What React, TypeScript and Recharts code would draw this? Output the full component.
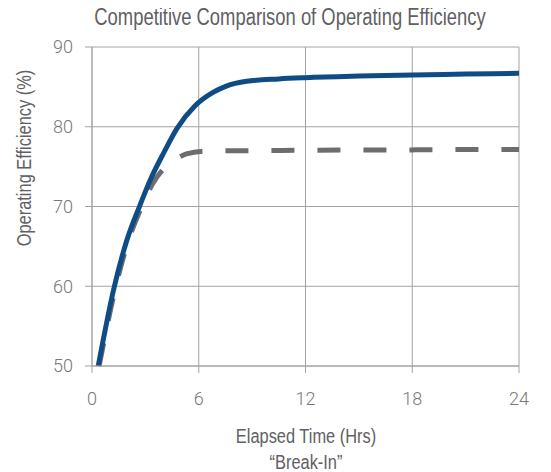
import React from "react"
import { LineChart, Line, XAxis, YAxis, CartesianGrid } from "recharts"

// hours elapsed / operating efficiency (%)
const leaderHours = [0.35, 1.25, 1.95, 2.65, 3.35, 4.0, 4.78, 5.78, 6.8, 7.55, 8.7, 10.5, 12, 15, 18, 21, 24]
const leaderEff = [50, 59.9, 65.7, 69.9, 73.7, 76.6, 79.8, 82.6, 84.3, 85.1, 85.7, 86.0, 86.15, 86.35, 86.5, 86.6, 86.7]

const competitorHours = [0.4, 1.3, 2.0, 2.7, 3.45, 4.1, 4.7, 5.3, 6.4, 9, 12, 15, 18, 21, 24]
const competitorEff = [50, 59.6, 65.4, 69.5, 73.0, 74.9, 75.9, 76.6, 76.95, 77.0, 77.05, 77.1, 77.1, 77.15, 77.15]

const xTicks = [0, 6, 12, 18, 24]
const yTicks = [50, 60, 70, 80, 90]

const leaderData = leaderHours.map((t, i) => ({ t, eff: leaderEff[i] }))
const competitorData = competitorHours.map((t, i) => ({ t, eff: competitorEff[i] }))

const textGray = "#5f6064"
const gridGray = "#a3a3a3"
const narrow = "'Liberation Sans', Arial, sans-serif"
const tickFont = { fill: "#77787b", fontSize: 18, fontFamily: "Roboto, 'Liberation Sans', sans-serif", fontWeight: 300 }

export default function App() {
  return (
    <div style={{ position: "relative", width: 535, height: 464 }}>
      <div
        style={{
          position: "absolute",
          top: -4,
          left: 2,
          width: 560,
          textAlign: "center",
          fontFamily: narrow,
          fontSize: 23,
          lineHeight: "26px",
          color: textGray,
          whiteSpace: "nowrap",
          transform: "scaleX(0.8)",
        }}
      >
        Competitive Comparison of Operating Efficiency
      </div>
      <LineChart width={535} height={456} data={leaderData} margin={{ top: 39, right: 24, bottom: 0, left: 0 }}>
        <CartesianGrid stroke={gridGray} strokeWidth={1} />
        <XAxis
          dataKey="t"
          type="number"
          domain={[0, 24]}
          ticks={xTicks}
          height={98}
          tickSize={7}
          tickMargin={19}
          stroke={gridGray}
          tickLine={{ stroke: gridGray }}
          tick={tickFont}
          allowDuplicatedCategory={false}
        />
        <YAxis
          type="number"
          domain={[50, 90]}
          ticks={yTicks}
          width={84}
          tickSize={7}
          tickMargin={12}
          stroke={gridGray}
          tickLine={{ stroke: gridGray }}
          tick={tickFont}
        />
        <Line
          data={competitorData}
          dataKey="eff"
          type="monotone"
          stroke="#6d6d6f"
          strokeWidth={5}
          strokeDasharray="23 23"
          dot={false}
          isAnimationActive={false}
        />
        <Line
          data={leaderData}
          dataKey="eff"
          type="monotone"
          stroke="#0f4c86"
          strokeWidth={5}
          dot={false}
          isAnimationActive={false}
        />
      </LineChart>
      <div
        style={{
          position: "absolute",
          top: 415,
          left: 168,
          width: 260,
          textAlign: "center",
          fontFamily: narrow,
          fontSize: 20,
          lineHeight: "26px",
          color: textGray,
          whiteSpace: "nowrap",
          transform: "scaleX(0.82)",
        }}
      >
        Elapsed Time (Hrs)
        <br />
        “Break-In”
      </div>
      <div
        style={{
          position: "absolute",
          top: 139,
          left: -114,
          width: 260,
          textAlign: "center",
          fontFamily: narrow,
          fontSize: 20,
          lineHeight: "22px",
          color: textGray,
          whiteSpace: "nowrap",
          transform: "rotate(-90deg) scaleX(0.82)",
        }}
      >
        Operating Efficiency (%)
      </div>
    </div>
  )
}
